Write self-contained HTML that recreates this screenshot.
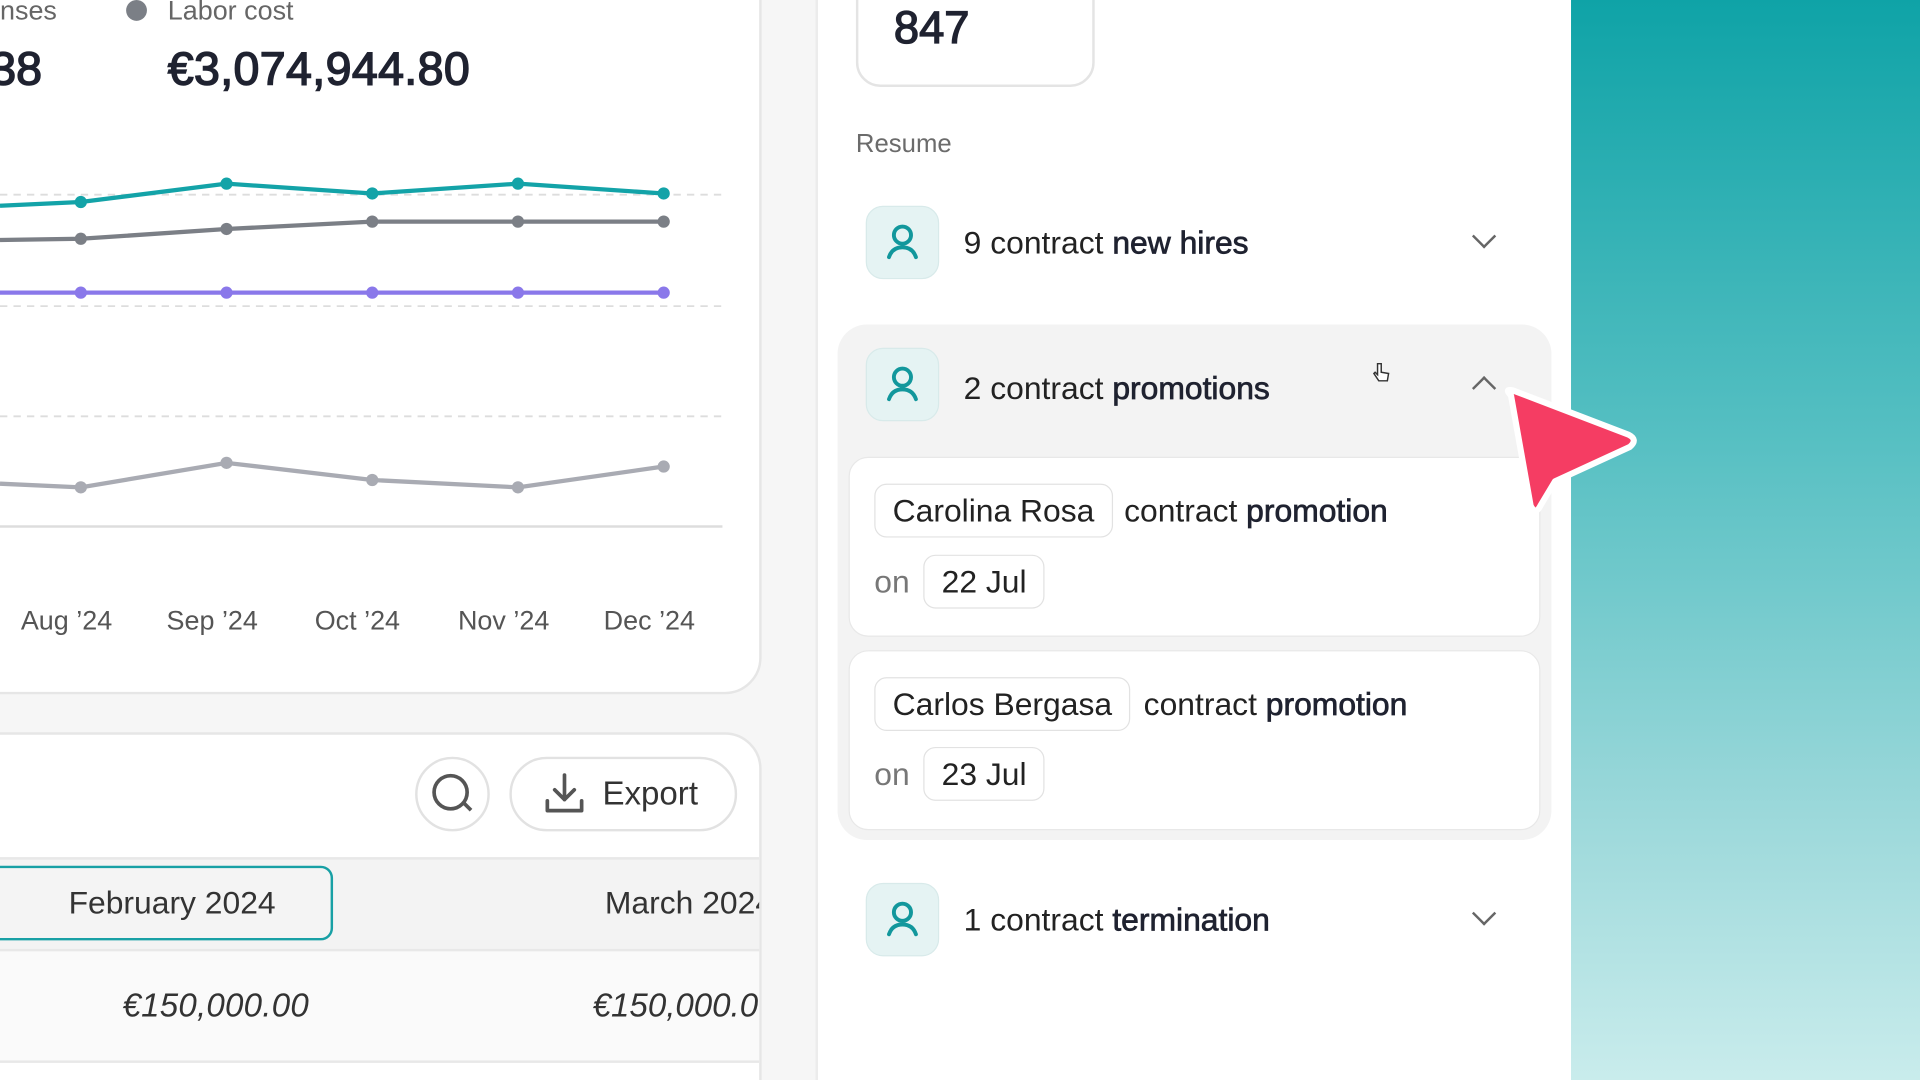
<!DOCTYPE html>
<html><head><meta charset="utf-8"><style>
*{margin:0;padding:0;box-sizing:border-box}
html,body{width:1920px;height:1080px;overflow:hidden;background:#fff}
#s{width:1568px;height:882px;transform:scale(1.22449);transform-origin:0 0;position:relative;font-family:"Liberation Sans",sans-serif;color:#1f2230;background:#f6f6f6}
.a{position:absolute}
.card{position:absolute;background:#fff;border:2px solid #e6e6e6}
.ib{position:absolute;left:707px;width:60px;height:60px;border-radius:14px;background:#e5f3f3;border:1px solid #d8eaea}
.rt{position:absolute;left:787px;font-size:26px;color:#222}
.m{-webkit-text-stroke:0.6px #1f2230;color:#1f2230}
.chev{position:absolute;left:1205px;width:14px;height:14px;border-right:2.5px solid #666;border-bottom:2.5px solid #666;transform:rotate(45deg)}
.chip{position:absolute;border:1.5px solid #e2e2e2;border-radius:10px;background:#fff;font-size:26px;padding:0 14px;line-height:42px;color:#222}
.gl{font-size:26px;position:absolute;color:#222}
</style></head><body><div id="s">
<div class="card" style="left:-40px;top:-40px;width:662px;height:607px;border-radius:0 0 30px 0"></div>
<div class="a" style="left:0;top:-4px;font-size:22px;color:#666">nses</div>
<div class="a" style="left:103px;top:0;width:17px;height:17px;border-radius:50%;background:#7b7f86"></div>
<div class="a" style="left:137px;top:-4px;font-size:22px;color:#666">Labor cost</div>
<div class="a" style="left:-8px;top:36px;font-size:38px;color:#1f2230;-webkit-text-stroke:1.2px #1f2230">38</div>
<div class="a" style="left:137px;top:36px;font-size:38px;color:#1f2230;-webkit-text-stroke:1.2px #1f2230;letter-spacing:0.3px">€3,074,944.80</div>
<svg class="a" style="left:0;top:0" width="600" height="440">
<g stroke="#ddd" stroke-width="1.5" stroke-dasharray="6 5"><line x1="0" y1="159" x2="590" y2="159"/><line x1="0" y1="250" x2="590" y2="250"/><line x1="0" y1="340" x2="590" y2="340"/></g>
<line x1="0" y1="430" x2="590" y2="430" stroke="#ddd" stroke-width="2"/>
<g fill="none" stroke-width="3.5">
<polyline stroke="#13a3a8" points="0,168 66,165 185,150 304,158 423,150 542,158"/>
<polyline stroke="#7b7f86" points="0,196 66,195 185,187 304,181 423,181 542,181"/>
<polyline stroke="#8a78ea" points="0,239 542,239"/>
<polyline stroke="#a9abb3" points="0,395 66,398 185,378 304,392 423,398 542,381"/>
</g>
<g fill="#13a3a8"><circle cx="66" cy="165" r="5"/><circle cx="185" cy="150" r="5"/><circle cx="304" cy="158" r="5"/><circle cx="423" cy="150" r="5"/><circle cx="542" cy="158" r="5"/></g>
<g fill="#7b7f86"><circle cx="66" cy="195" r="5"/><circle cx="185" cy="187" r="5"/><circle cx="304" cy="181" r="5"/><circle cx="423" cy="181" r="5"/><circle cx="542" cy="181" r="5"/></g>
<g fill="#8a78ea"><circle cx="66" cy="239" r="5"/><circle cx="185" cy="239" r="5"/><circle cx="304" cy="239" r="5"/><circle cx="423" cy="239" r="5"/><circle cx="542" cy="239" r="5"/></g>
<g fill="#a9abb3"><circle cx="66" cy="398" r="5"/><circle cx="185" cy="378" r="5"/><circle cx="304" cy="392" r="5"/><circle cx="423" cy="398" r="5"/><circle cx="542" cy="381" r="5"/></g>
</svg>
<div class="a" style="left:0;top:494px;width:600px;font-size:22px;color:#555">
<span class="a" style="left:17px">Aug ’24</span><span class="a" style="left:136px">Sep ’24</span><span class="a" style="left:257px">Oct ’24</span><span class="a" style="left:374px">Nov ’24</span><span class="a" style="left:493px">Dec ’24</span></div>

<div class="card" style="left:-40px;top:598px;width:662px;height:320px;border-radius:0 30px 0 0"></div>
<div class="a" style="left:339px;top:618px;width:61px;height:61px;border-radius:50%;border:2.5px solid #e2e2e2"></div>
<div class="a" style="left:353px;top:632px;width:30px;height:30px;border-radius:50%;border:3px solid #555"></div>
<div class="a" style="left:377px;top:657px;width:9px;height:3px;background:#555;transform:rotate(45deg)"></div>
<div class="a" style="left:416px;top:618px;width:186px;height:61px;border-radius:31px;border:2.5px solid #e2e2e2"></div>
<svg class="a" style="left:444px;top:630px" width="36" height="36" fill="none" stroke="#555" stroke-width="3" stroke-linecap="round" stroke-linejoin="round"><path d="M17 3v20M9 15l8 8 8-8M3 24v8h28v-8"/></svg>
<div class="a" style="left:492px;top:633px;font-size:27px;color:#333">Export</div>
<div class="a" style="left:0;top:700px;width:620px;height:77px;background:#f3f3f3;border-top:2px solid #e8e8e8;border-bottom:2px solid #e8e8e8"></div>
<div class="a" style="left:-20px;top:707px;width:292px;height:61px;border:2px solid #18a0a5;border-radius:10px;background:#f4f4f4"></div>
<div class="a" style="left:56px;top:722px;font-size:26px;color:#333">February 2024</div>
<div class="a" style="left:494px;top:722px;font-size:26px;color:#333;white-space:nowrap;width:126px;overflow:hidden">March 2024</div>
<div class="a" style="left:0;top:777px;width:620px;height:91px;background:#fafafa;border-bottom:2px solid #e8e8e8"></div>
<div class="a" style="left:100px;top:806px;font-size:27px;font-style:italic;color:#333;letter-spacing:0.2px">€150,000.00</div>
<div class="a" style="left:484px;top:806px;font-size:27px;font-style:italic;color:#333;width:136px;overflow:hidden;white-space:nowrap">€150,000.00</div>

<div class="a" style="left:666px;top:0;width:617px;height:882px;background:#fff;border-left:2px solid #ececec"></div>
<div class="a" style="left:699px;top:-30px;width:195px;height:101px;border:2px solid #e4e4e4;border-radius:20px"></div>
<div class="a" style="left:730px;top:2px;font-size:37px;color:#1f2230;-webkit-text-stroke:1.1px #1f2230">847</div>
<div class="a" style="left:699px;top:106px;font-size:21px;color:#6b6b6b">Resume</div>

<div class="ib" style="top:168px"></div>
<div class="rt" style="top:183px">9 contract <span class="m">new hires</span></div>
<div class="chev" style="top:186px"></div>

<div class="a" style="left:684px;top:265px;width:583px;height:421px;background:#f3f3f3;border-radius:24px"></div>
<div class="ib" style="top:284px"></div>
<div class="rt" style="top:302px">2 contract <span class="m">promotions</span></div>
<div class="chev" style="top:310px;transform:rotate(225deg)"></div>
<div class="a" style="left:693px;top:373px;width:565px;height:147px;background:#fff;border-radius:16px;border:1.5px solid #e8e8e8"></div>
<div class="chip" style="left:714px;top:395px">Carolina Rosa</div>
<div class="gl" style="left:918px;top:402px">contract <span class="m">promotion</span></div>
<div class="gl" style="left:714px;top:460px;color:#777">on</div>
<div class="chip" style="left:754px;top:453px">22 Jul</div>
<div class="a" style="left:693px;top:531px;width:565px;height:147px;background:#fff;border-radius:16px;border:1.5px solid #e8e8e8"></div>
<div class="chip" style="left:714px;top:553px">Carlos Bergasa</div>
<div class="gl" style="left:934px;top:560px">contract <span class="m">promotion</span></div>
<div class="gl" style="left:714px;top:617px;color:#777">on</div>
<div class="chip" style="left:754px;top:610px">23 Jul</div>

<div class="ib" style="top:721px"></div>
<div class="rt" style="top:736px">1 contract <span class="m">termination</span></div>
<div class="chev" style="top:739px"></div>

<svg class="a" style="left:707px;top:0" width="60" height="800" fill="none" stroke="#12979c" stroke-width="3.2" stroke-linecap="round">
<g transform="translate(0,168)"><circle cx="30" cy="24" r="7"/><path d="M19 42c2-6 6-8 11-8s9 2 11 8"/></g>
<g transform="translate(0,284)"><circle cx="30" cy="24" r="7"/><path d="M19 42c2-6 6-8 11-8s9 2 11 8"/></g>
<g transform="translate(0,721)"><circle cx="30" cy="24" r="7"/><path d="M19 42c2-6 6-8 11-8s9 2 11 8"/></g>
</svg>

<div class="a" style="left:1283px;top:0;width:285px;height:882px;background:linear-gradient(180deg,#0fa3a7 0%,#55bfc2 40%,#9bd8da 75%,#c9ecec 100%)"></div>
<svg class="a" style="left:1220px;top:305px" width="130" height="125">
<path d="M14 18 Q8 12 16 14 L110 50 Q118 54 111 60 L50 88 L38 108 Q34 116 30 108 Z" fill="#f53d63" stroke="#fff" stroke-width="5" stroke-linejoin="round"/>
</svg>
<svg class="a" style="left:1120px;top:295px" width="16" height="18" fill="#fff" stroke="#333" stroke-width="1.2"><path d="M5 2v9l-2-2-1 1 4 6h7l1-6-6-1V2z"/></svg>
</div></body></html>
